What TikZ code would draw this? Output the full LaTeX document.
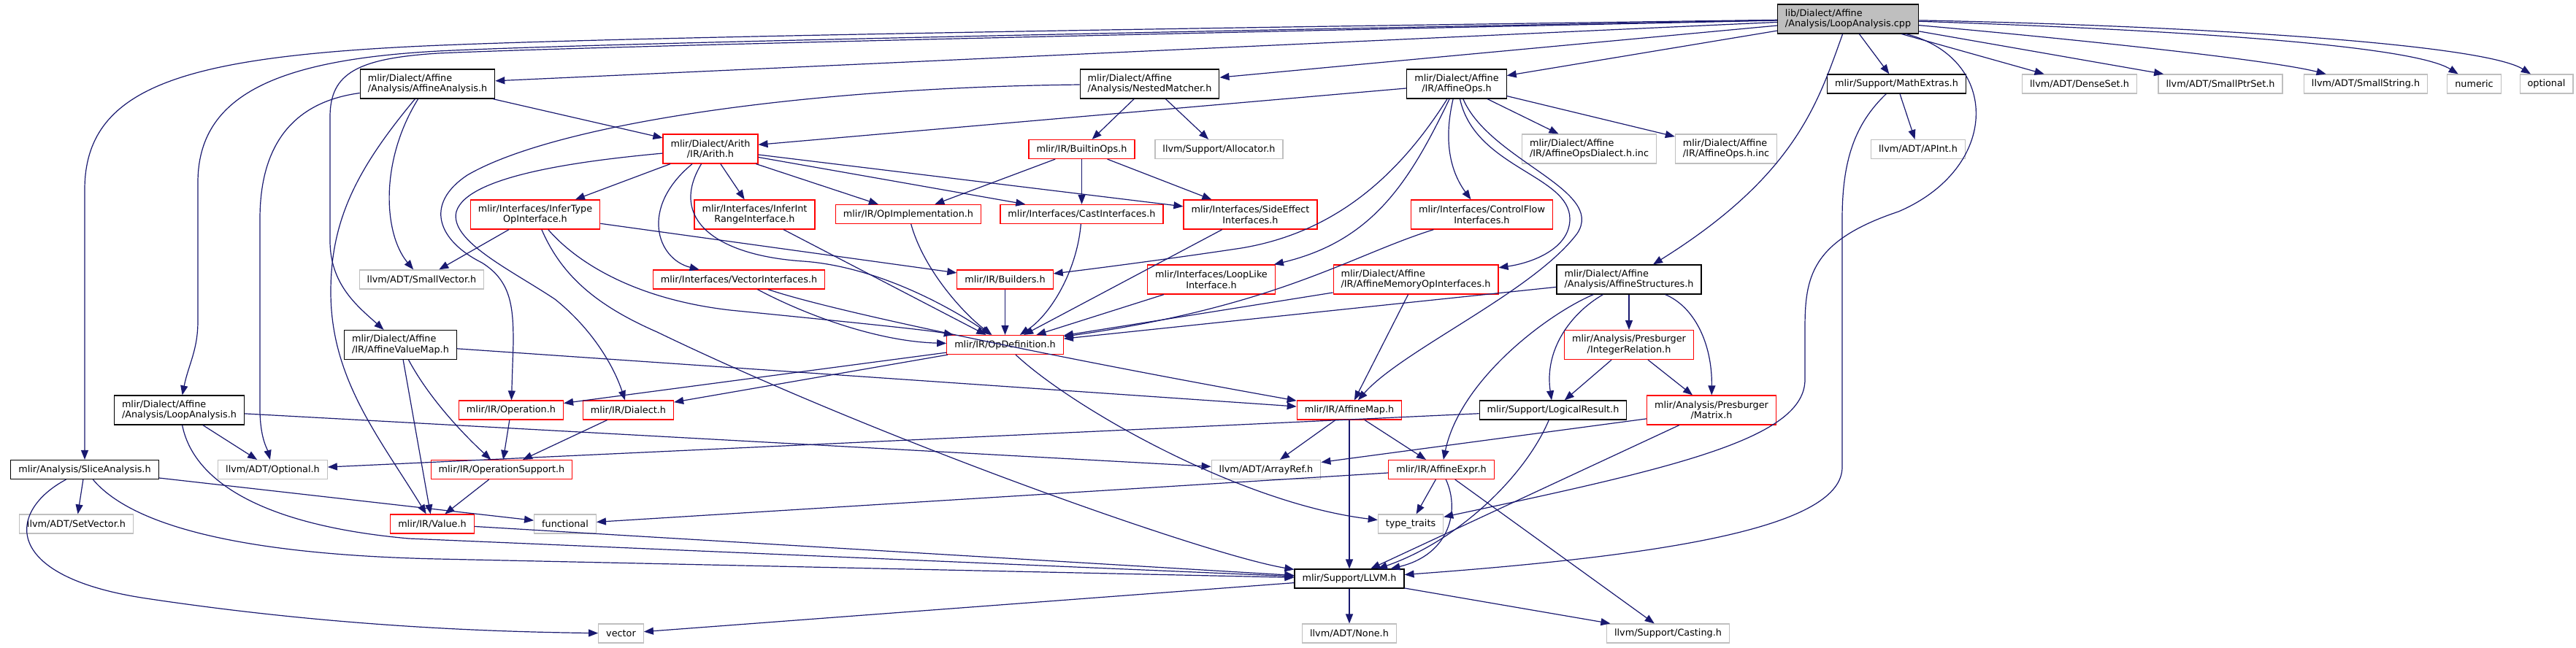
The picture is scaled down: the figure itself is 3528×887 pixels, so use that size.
\documentclass[tikz,border=0pt]{standalone}
\usepackage{fontspec}
\setmainfont{DejaVu Sans}
\usepackage{xcolor}
\usepackage{tikz}
\usetikzlibrary{arrows.meta}
\definecolor{edgeblue}{HTML}{191970}
\definecolor{trunc}{HTML}{FF0000}
\definecolor{ext}{HTML}{BFBFBF}
\definecolor{rootfill}{HTML}{BFBFBF}

\begin{document}
\begin{tikzpicture}[x=1pt,y=-1pt,
  every node/.style={font=\fontsize{12.8}{14.5}\selectfont,text=black},
  b/.style={draw=black,line width=1.2pt,inner xsep=10.5pt,inner ysep=0pt,minimum height=26pt},
  two/.style={minimum height=40pt,align=center},
  twol/.style={minimum height=40pt,align=left},
  r/.style={b,draw=trunc},
  g/.style={b,draw=ext},
  a/.style={-{Triangle[length=13pt,width=10pt]},line width=1.2pt,edgeblue}]
  \fill[white] (0,0) rectangle (3528,887);
  \useasboundingbox (0,0) rectangle (3528,887);

  \node[b,twol,fill=rootfill] (root) at (2531,26) {lib/Dialect/Affine\\/Analysis/LoopAnalysis.cpp};
  \node[b,twol] (affan) at (585.5,115) {mlir/Dialect/Affine\\/Analysis/AffineAnalysis.h};
  \node[b,twol] (nested) at (1574.5,115) {mlir/Dialect/Affine\\/Analysis/NestedMatcher.h};
  \node[b,two] (affineops) at (1995,115) {mlir/Dialect/Affine\\/IR/AffineOps.h};
  \node[b] (mathextras) at (2597.5,115) {mlir/Support/MathExtras.h};
  \node[g] (denseset) at (2848,115) {llvm/ADT/DenseSet.h};
  \node[g] (smallptrset) at (3041,115) {llvm/ADT/SmallPtrSet.h};
  \node[g] (smallstring) at (3240,115) {llvm/ADT/SmallString.h};
  \node[g] (numeric) at (3388.5,115) {numeric};
  \node[g] (optional) at (3487.5,115) {optional};

  \node[r,two] (arith) at (973,204) {mlir/Dialect/Arith\\/IR/Arith.h};
  \node[r] (builtinops) at (1481.5,204.5) {mlir/IR/BuiltinOps.h};
  \node[g] (allocator) at (1669.5,204.5) {llvm/Support/Allocator.h};
  \node[g,twol] (opsdialect) at (2176.5,204) {mlir/Dialect/Affine\\/IR/AffineOpsDialect.h.inc};
  \node[g,twol] (opsinc) at (2364,204) {mlir/Dialect/Affine\\/IR/AffineOps.h.inc};
  \node[g] (apint) at (2627,204.5) {llvm/ADT/APInt.h};

  \node[r,two] (infertype) at (733,294) {mlir/Interfaces/InferType\\OpInterface.h};
  \node[r,two] (inferint) at (1033.5,294) {mlir/Interfaces/InferInt\\RangeInterface.h};
  \node[r] (opimpl) at (1244,293.5) {mlir/IR/OpImplementation.h};
  \node[r] (castif) at (1481.5,293.5) {mlir/Interfaces/CastInterfaces.h};
  \node[r,two] (sideeffect) at (1712.5,294) {mlir/Interfaces/SideEffect\\Interfaces.h};
  \node[r,two] (controlflow) at (2029.5,294) {mlir/Interfaces/ControlFlow\\Interfaces.h};

  \node[g] (smallvec) at (577.5,383) {llvm/ADT/SmallVector.h};
  \node[r] (vectorif) at (1012,383) {mlir/Interfaces/VectorInterfaces.h};
  \node[r] (builders) at (1376.5,383) {mlir/IR/Builders.h};
  \node[r,two] (looplike) at (1659,383) {mlir/Interfaces/LoopLike\\Interface.h};
  \node[r,twol] (memop) at (1939,383) {mlir/Dialect/Affine\\/IR/AffineMemoryOpInterfaces.h};
  \node[b,twol] (affstruct) at (2231,383) {mlir/Dialect/Affine\\/Analysis/AffineStructures.h};

  \node[b,twol] (affvalmap) at (548.5,472.5) {mlir/Dialect/Affine\\/IR/AffineValueMap.h};
  \node[r] (opdef) at (1376.5,472.5) {mlir/IR/OpDefinition.h};
  \node[r,two] (integerrel) at (2231,472.5) {mlir/Analysis/Presburger\\/IntegerRelation.h};

  \node[b,twol] (loopanah) at (245.5,562) {mlir/Dialect/Affine\\/Analysis/LoopAnalysis.h};
  \node[r] (operation) at (700,562) {mlir/IR/Operation.h};
  \node[r] (dialect) at (860.5,562) {mlir/IR/Dialect.h};
  \node[r] (affinemap) at (1848,562) {mlir/IR/AffineMap.h};
  \node[b] (logicalres) at (2127,562) {mlir/Support/LogicalResult.h};
  \node[r,two] (matrix) at (2344,562) {mlir/Analysis/Presburger\\/Matrix.h};

  \node[b] (slice) at (116,643.5) {mlir/Analysis/SliceAnalysis.h};
  \node[g] (optionalh) at (373.5,643.5) {llvm/ADT/Optional.h};
  \node[r] (opsupport) at (687,643.5) {mlir/IR/OperationSupport.h};
  \node[g] (arrayref) at (1734,643.5) {llvm/ADT/ArrayRef.h};
  \node[r] (affineexpr) at (1974,643.5) {mlir/IR/AffineExpr.h};

  \node[g] (setvector) at (104.5,718) {llvm/ADT/SetVector.h};
  \node[r] (value) at (592,718) {mlir/IR/Value.h};
  \node[g] (functional) at (774,718) {functional};
  \node[g] (typetraits) at (1932,718) {type\_traits};

  \node[b] (llvmh) at (1848,793) {mlir/Support/LLVM.h};

  \node[g] (vector) at (850.5,868) {vector};
  \node[g] (none) at (1848,868) {llvm/ADT/None.h};
  \node[g] (casting) at (2284.5,868) {llvm/Support/Casting.h};

  \draw[a] (root) -- (affan);
  \draw[a] (root) -- (nested);
  \draw[a] (root) -- (affineops);
  \draw[a] (root) -- (mathextras);
  \draw[a] (root) -- (denseset);
  \draw[a] (root) -- (smallptrset);
  \draw[a] (root) .. controls (2800,50) and (3100,80) .. (smallstring);
  \draw[a] (root) .. controls (2950,40) and (3300,60) .. (numeric);
  \draw[a] (root) .. controls (3000,35) and (3400,60) .. (optional);
  \draw[a] (root) .. controls (1500,40) and (800,52) .. (560,64) .. controls (250,80) and (116,120) .. (116,260) -- (slice);
  \draw[a] (root) .. controls (1500,45) and (800,60) .. (600,70) .. controls (380,82) and (271,130) .. (271,250) -- (271,440) .. controls (271,480) and (258,500) .. (loopanah);
  \draw[a] (root) .. controls (1500,48) and (800,64) .. (600,73) .. controls (490,80) and (452,100) .. (452,160) -- (452,330) .. controls (452,390) and (490,420) .. (affvalmap);
  \draw[a] (root) .. controls (2490,140) and (2460,240) .. (affstruct);
  \draw[a] (root) .. controls (2740,80) and (2740,230) .. (2600,290) .. controls (2480,330) and (2472,380) .. (2472,450) -- (2472,520) .. controls (2472,600) and (2300,640) .. (typetraits);

  \draw[a] (affan) -- (arith);
  \draw[a] (affan) .. controls (520,220) and (525,320) .. (smallvec);
  \draw[a] (affan) .. controls (400,140) and (356,200) .. (356,300) -- (356,560) .. controls (356,600) and (366,615) .. (optionalh);
  \draw[a] (affan) .. controls (490,230) and (453,300) .. (453,400) .. controls (453,520) and (520,600) .. (value);

  \draw[a] (nested) -- (builtinops);
  \draw[a] (nested) -- (allocator);
  \draw[a] (nested) .. controls (1100,120) and (760,170) .. (640,240) .. controls (580,280) and (600,330) .. (660,360) .. controls (700,385) and (703,420) .. (703,470) -- (operation);

  \draw[a] (affineops) -- (arith);
  \draw[a] (affineops) .. controls (1910,250) and (1820,320) .. (1700,340) .. controls (1600,355) and (1500,368) .. (builders);
  \draw[a] (affineops) .. controls (1930,250) and (1880,330) .. (looplike);
  \draw[a] (affineops) .. controls (1975,200) and (1990,240) .. (controlflow);
  \draw[a] (affineops) .. controls (2020,230) and (2150,240) .. (2150,300) .. controls (2150,340) and (2100,360) .. (memop);
  \draw[a] (affineops) .. controls (2040,220) and (2200,260) .. (2160,320) .. controls (2100,400) and (1920,480) .. (affinemap);
  \draw[a] (affineops) -- (opsdialect);
  \draw[a] (affineops) -- (opsinc);

  \draw[a] (mathextras) -- (apint);
  \draw[a] (mathextras) .. controls (2540,170) and (2523,220) .. (2523,300) -- (2523,640) .. controls (2523,720) and (2300,760) .. (llvmh);

  \draw[a] (arith) -- (infertype);
  \draw[a] (arith) -- (inferint);
  \draw[a] (arith) -- (opimpl);
  \draw[a] (arith) -- (castif);
  \draw[a] (arith) -- (sideeffect);
  \draw[a] (arith) .. controls (875,285) and (900,355) .. (vectorif);
  \draw[a] (arith) .. controls (915,300) and (980,350) .. (1100,358) .. controls (1200,365) and (1300,420) .. (opdef);
  \draw[a] (arith) .. controls (800,220) and (640,240) .. (625,290) .. controls (615,330) and (700,370) .. (760,410) .. controls (810,450) and (840,500) .. (dialect);

  \draw[a] (builtinops) -- (opimpl);
  \draw[a] (builtinops) -- (castif);
  \draw[a] (builtinops) -- (sideeffect);

  \draw[a] (infertype) -- (smallvec);
  \draw[a] (infertype) -- (builders);
  \draw[a] (infertype) .. controls (790,360) and (870,410) .. (1000,425) .. controls (1150,440) and (1270,452) .. (opdef);
  \draw[a] (infertype) .. controls (770,380) and (820,420) .. (900,455) .. controls (1200,600) and (1650,760) .. (llvmh);

  \draw[a] (inferint) -- (opdef);
  \draw[a] (opimpl) .. controls (1265,370) and (1320,430) .. (opdef);
  \draw[a] (castif) .. controls (1475,370) and (1440,430) .. (opdef);
  \draw[a] (sideeffect) -- (opdef);
  \draw[a] (controlflow) .. controls (1850,350) and (1750,420) .. (opdef);
  \draw[a] (vectorif) .. controls (1100,430) and (1200,468) .. (opdef);
  \draw[a] (vectorif) .. controls (1150,430) and (1500,500) .. (affinemap);
  \draw[a] (builders) -- (opdef);
  \draw[a] (looplike) -- (opdef);
  \draw[a] (memop) -- (opdef);
  \draw[a] (memop) -- (affinemap);

  \draw[a] (affstruct) -- (opdef);
  \draw[a] (affstruct) -- (integerrel);
  \draw[a] (affstruct) .. controls (2320,420) and (2345,470) .. (matrix);
  \draw[a] (affstruct) .. controls (2150,430) and (2115,480) .. (logicalres);
  \draw[a] (affstruct) .. controls (2120,430) and (2000,520) .. (affineexpr);

  \draw[a] (affvalmap) -- (affinemap);
  \draw[a] (affvalmap) .. controls (590,550) and (640,600) .. (opsupport);
  \draw[a] (affvalmap) -- (value);

  \draw[a] (opdef) -- (operation);
  \draw[a] (opdef) -- (dialect);
  \draw[a] (opdef) .. controls (1470,560) and (1700,690) .. (typetraits);

  \draw[a] (integerrel) -- (logicalres);
  \draw[a] (integerrel) -- (matrix);

  \draw[a] (loopanah) -- (optionalh);
  \draw[a] (loopanah) -- (arrayref);
  \draw[a] (loopanah) .. controls (265,660) and (360,720) .. (560,738) -- (llvmh);

  \draw[a] (operation) -- (opsupport);
  \draw[a] (dialect) -- (opsupport);
  \draw[a] (opsupport) -- (value);

  \draw[a] (affinemap) -- (arrayref);
  \draw[a] (affinemap) -- (llvmh);
  \draw[a] (affinemap) -- (affineexpr);

  \draw[a] (logicalres) -- (optionalh);
  \draw[a] (logicalres) .. controls (2090,650) and (2000,740) .. (llvmh);
  \draw[a] (matrix) -- (arrayref);
  \draw[a] (matrix) -- (llvmh);

  \draw[a] (slice) -- (setvector);
  \draw[a] (slice) .. controls (180,720) and (330,760) .. (600,766) -- (llvmh);
  \draw[a] (slice) .. controls (10,700) and (0,790) .. (200,820) .. controls (400,850) and (600,865) .. (vector);
  \draw[a] (slice) -- (functional);

  \draw[a] (affineexpr) -- (functional);
  \draw[a] (affineexpr) -- (typetraits);
  \draw[a] (affineexpr) .. controls (2000,700) and (1985,760) .. (llvmh);
  \draw[a] (affineexpr) -- (casting);

  \draw[a] (value) -- (llvmh);
  \draw[a] (llvmh) -- (none);
  \draw[a] (llvmh) -- (casting);
  \draw[a] (llvmh) -- (vector);
\end{tikzpicture}
\end{document}
